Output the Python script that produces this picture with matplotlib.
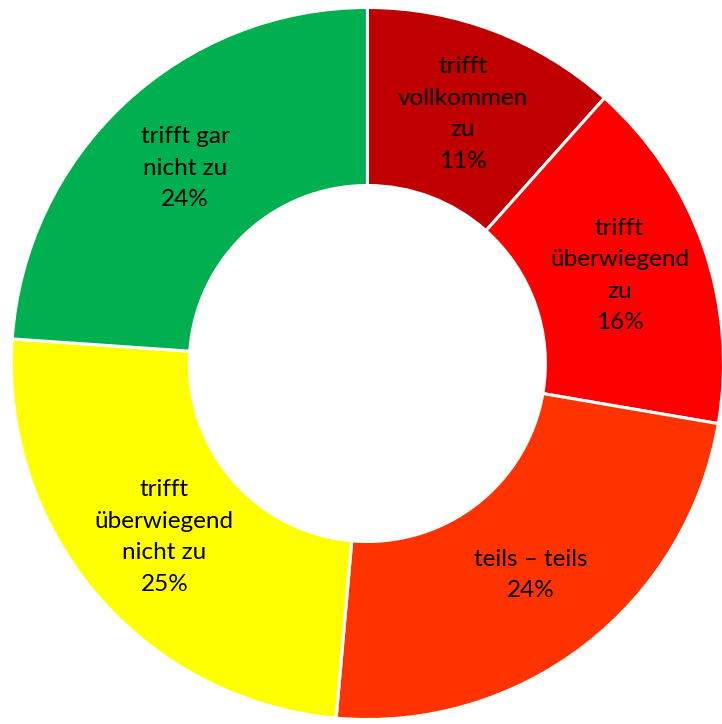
import numpy as np
import matplotlib
matplotlib.use('Agg')
import matplotlib.pyplot as plt

# Daten (Anteile aus der Grafik geschätzt)
categories = ['trifft\nvollkommen\nzu', 'trifft\nüberwiegend\nzu', 'teils – teils',
              'trifft\nüberwiegend\nnicht zu', 'trifft gar\nnicht zu']
shares = [11.6, 16.1, 23.7, 24.7, 23.9]
pct_labels = ['11%', '16%', '24%', '25%', '24%']
colors = ['#C00000', '#FF0000', '#FF3300', '#FFFF00', '#00B050']

plt.rcParams['font.family'] = ['Lato', 'DejaVu Sans']

fig = plt.figure(figsize=(7.22, 7.24), dpi=100)
ax = fig.add_axes([0, 0, 1, 1])

wedges, _ = ax.pie(shares, colors=colors, startangle=90, counterclock=False,
                   radius=1.0,
                   wedgeprops=dict(width=0.5, edgecolor='white', linewidth=2.2))

for w, cat, pct in zip(wedges, categories, pct_labels):
    mid = np.deg2rad((w.theta1 + w.theta2) / 2)
    r = 0.75
    ax.text(r * np.cos(mid), r * np.sin(mid), cat + '\n' + pct,
            ha='center', va='center', fontsize=17.5, linespacing=1.62,
            color='black')

ax.set_xlim(-1.032, 0.996)
ax.set_ylim(-1.0126, 1.021)
ax.set_aspect('auto')
ax.axis('off')

fig.savefig('out.png', dpi=100)
